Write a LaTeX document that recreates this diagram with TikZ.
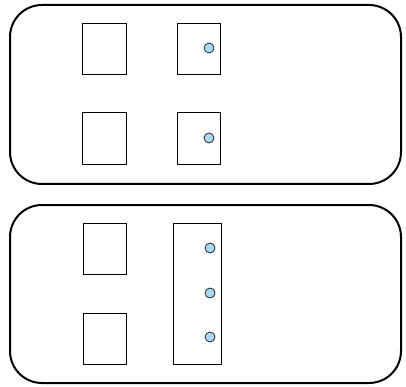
\documentclass[tikz,border=0pt]{standalone}
\definecolor{dotblue}{RGB}{170,216,242}
\begin{document}
\begin{tikzpicture}[x=1pt,y=-1pt,
  outer/.style={draw=black,line width=2pt,rounded corners=32pt},
  slot/.style={draw=black,line width=1.4pt,fill=white,inner sep=0pt,anchor=north west},
  dot/.style={circle,draw=black!85,line width=0.8pt,fill=dotblue,minimum size=10pt,inner sep=0pt}]
\useasboundingbox (0,0) rectangle (406,387);
% top panel
\draw[outer] (10,5) rectangle (401,184);
\node[slot,minimum width=44pt,minimum height=51pt] (a1) at (82,23) {};
\node[slot,minimum width=43pt,minimum height=51pt] (b1) at (177,23) {};
\node[slot,minimum width=44pt,minimum height=52pt] (a2) at (82,112) {};
\node[slot,minimum width=43pt,minimum height=52pt] (b2) at (177,112) {};
\node[dot] (d1) at (209,48) {};
\node[dot] (d2) at (209,138) {};
% bottom panel
\draw[outer] (10,205) rectangle (401,383);
\node[slot,minimum width=43pt,minimum height=51pt] (c1) at (83,223) {};
\node[slot,minimum width=43pt,minimum height=51pt] (c2) at (83,313) {};
\node[slot,minimum width=48pt,minimum height=141pt] (t) at (173,223) {};
\node[dot] (e1) at (210,248) {};
\node[dot] (e2) at (210,293) {};
\node[dot] (e3) at (210,337) {};
\end{tikzpicture}
\end{document}
